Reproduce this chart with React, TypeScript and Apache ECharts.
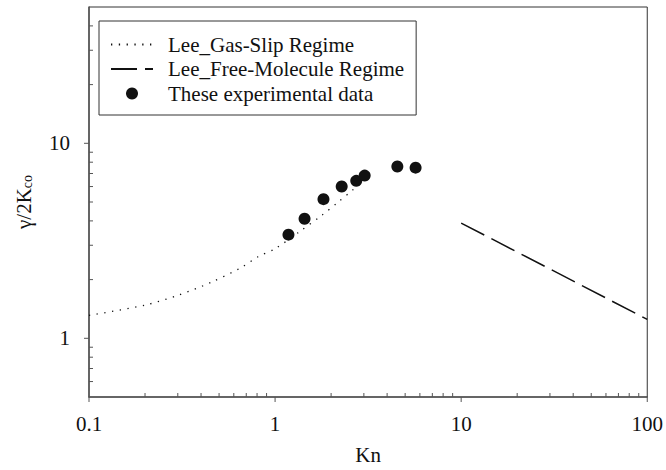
import React, { useEffect, useRef } from "react";
import * as echarts from "echarts";

const slipKn = [0.1, 0.2, 0.3, 0.45, 0.66, 0.81, 1.0, 1.33, 1.78, 2.16, 2.63, 2.9];
const slipGamma = [1.31, 1.48, 1.66, 1.93, 2.31, 2.62, 2.88, 3.48, 4.27, 4.95, 5.79, 6.25];
const freeKn = [10, 100];
const freeGamma = [3.9, 1.25];
const expKn = [1.18, 1.44, 1.82, 2.28, 2.73, 3.03, 4.54, 5.69];
const expGamma = [3.4, 4.1, 5.17, 6.0, 6.42, 6.83, 7.6, 7.5];

const xMajor = [0.1, 1, 10, 100];
const yMajor = [1, 10];
const xMinor = [0.2, 0.3, 0.4, 0.5, 0.6, 0.7, 0.8, 0.9, 2, 3, 4, 5, 6, 7, 8, 9, 20, 30, 40, 50, 60, 70, 80, 90];
const yMinor = [0.6, 0.7, 0.8, 0.9, 2, 3, 4, 5, 6, 7, 8, 9, 20, 30, 40];

const seriesNames = ["Lee_Gas-Slip Regime", "Lee_Free-Molecule Regime", "These experimental data"];

const X_MIN = 0.1, X_MAX = 100, Y_MIN = 0.5, Y_MAX = 50;
const FONT = "'Liberation Serif', 'DejaVu Serif', serif";
const FS = 21;
const AXIS_COLOR = "#555";
const INK = "#111";

function tickSeries(values: number[], axis: "x" | "y", len: number) {
  return {
    type: "custom",
    silent: true,
    clip: false,
    z: 5,
    data: values.map((v) => (axis === "x" ? [v, Y_MIN] : [X_MIN, v])),
    renderItem: (params: any, api: any) => {
      const p = api.coord([api.value(0), api.value(1)]);
      const shape =
        axis === "x"
          ? { x1: p[0], y1: p[1], x2: p[0], y2: p[1] - len }
          : { x1: p[0], y1: p[1], x2: p[0] + len, y2: p[1] };
      return { type: "line", shape, style: { stroke: AXIS_COLOR, lineWidth: 1 } };
    },
  };
}

const fmt = (v: number) => {
  const l = Math.log10(v);
  return Math.abs(l - Math.round(l)) < 1e-6 ? String(+v.toPrecision(3)) : "";
};

export default function App() {
  const ref = useRef<HTMLDivElement>(null);
  useEffect(() => {
    if (!ref.current) return;
    const chart = echarts.init(ref.current, undefined, { renderer: "svg" });
    chart.setOption({
      animation: false,
      backgroundColor: "#fff",
      textStyle: { fontFamily: FONT },
      grid: {
        left: 89,
        top: 7,
        right: 17,
        bottom: 71,
        show: true,
        borderColor: "#333",
        borderWidth: 1,
      },
      legend: {
        orient: "vertical",
        left: 99,
        top: 21,
        padding: [13, 12, 11, 11],
        itemGap: 3.5,
        itemWidth: 42,
        itemHeight: 12,
        borderColor: "#333",
        borderWidth: 1,
        backgroundColor: "#fff",
        data: [
          { name: seriesNames[0], itemStyle: { color: "rgba(0,0,0,0)", borderWidth: 0 } },
          { name: seriesNames[1], itemStyle: { color: "rgba(0,0,0,0)", borderWidth: 0 } },
          { name: seriesNames[2] },
        ],
        textStyle: { fontSize: FS, fontFamily: FONT, color: INK, padding: [0, 0, 0, 10] },
      },
      xAxis: {
        type: "log",
        logBase: 10,
        min: X_MIN,
        max: X_MAX,
        name: "Kn",
        nameLocation: "middle",
        nameGap: 47,
        nameTextStyle: { fontSize: FS, fontFamily: FONT, color: INK },
        axisLine: { lineStyle: { color: AXIS_COLOR, width: 1.5 } },
        axisTick: { show: false },
        splitLine: { show: false },
        axisLabel: { fontSize: FS, fontFamily: FONT, color: INK, margin: 16, formatter: fmt },
      },
      yAxis: {
        type: "log",
        logBase: 10,
        min: Y_MIN,
        max: Y_MAX,
        name: "{a|γ/2K}{b|co}",
        nameLocation: "middle",
        nameGap: 55,
        nameRotate: 90,
        nameTextStyle: {
          fontFamily: FONT,
          color: INK,
          rich: {
            a: { fontSize: FS, fontFamily: FONT, color: INK },
            b: { fontSize: 14, fontFamily: FONT, color: INK, verticalAlign: "bottom", padding: [4, 0, 0, 0] },
          },
        },
        axisLine: { lineStyle: { color: AXIS_COLOR, width: 1.5 } },
        axisTick: { show: false },
        splitLine: { show: false },
        axisLabel: { fontSize: FS, fontFamily: FONT, color: INK, margin: 19, formatter: fmt },
      },
      series: [
        {
          name: seriesNames[0],
          type: "line",
          symbol: "none",
          smooth: 0.3,
          data: slipKn.map((k, i) => [k, slipGamma[i]]),
          lineStyle: { color: INK, width: 1.3, type: [1.3, 6.5] },
          itemStyle: { color: INK },
          z: 2,
        },
        {
          name: seriesNames[1],
          type: "line",
          symbol: "none",
          data: freeKn.map((k, i) => [k, freeGamma[i]]),
          lineStyle: { color: INK, width: 1.5, type: [26, 8] },
          itemStyle: { color: INK },
          z: 2,
        },
        {
          name: seriesNames[2],
          type: "scatter",
          symbol: "circle",
          symbolSize: 12,
          data: expKn.map((k, i) => [k, expGamma[i]]),
          itemStyle: { color: INK, opacity: 1 },
          z: 3,
        },
        tickSeries(xMinor, "x", 4),
        tickSeries(yMinor, "y", 4),
        tickSeries(xMajor, "x", -5),
        tickSeries(yMajor, "y", -5),
      ],
    });
    return () => chart.dispose();
  }, []);
  return <div ref={ref} style={{ width: 666, height: 470, position: "absolute", left: 0, top: 0 }} />;
}
